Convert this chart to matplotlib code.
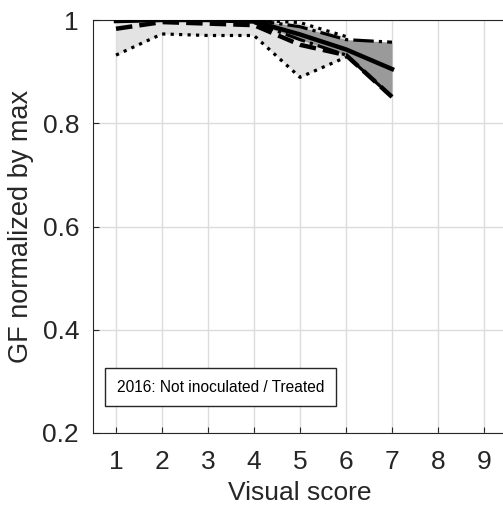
import matplotlib
matplotlib.use("Agg")
import matplotlib.pyplot as plt

plt.rcParams['font.family'] = ['Liberation Sans', 'DejaVu Sans']

# visual score positions
score = [1, 2, 3, 4, 5, 6, 7]

# central lines
mean_gf = [0.998, 1.0, 1.0, 0.997, 0.972, 0.943, 0.905]
median_gf = [0.983, 0.996, 0.993, 0.99, 0.952, 0.932, 0.851]

# light band (dotted bounds), scores 1-6
band1_x = [1, 2, 3, 4, 5, 6]
band1_hi = [1.0, 1.0, 1.0, 1.0, 0.995, 0.968]
band1_lo = [0.932, 0.973, 0.970, 0.970, 0.889, 0.928]

# dark band (dash-dot bounds), scores 4-7
band2_x = [4, 5, 6, 7]
band2_hi = [1.0, 0.987, 0.962, 0.957]
band2_lo = [0.995, 0.962, 0.932, 0.851]

xticks = [1, 2, 3, 4, 5, 6, 7, 8, 9]
yticks = [0.2, 0.4, 0.6, 0.8, 1.0]
ytick_labels = ['0.2', '0.4', '0.6', '0.8', '1']

dark = '#262626'

fig = plt.figure(figsize=(5.03, 5.09), dpi=100)
ax = fig.add_axes([93/503, 76/509, 414/503, 413/509])

ax.fill_between(band1_x, band1_lo, band1_hi, color='#e3e3e3', lw=0, zorder=1)
ax.fill_between(band2_x, band2_lo, band2_hi, color='#9a9a9a', lw=0, zorder=1.5)

ax.plot(band1_x, band1_hi, color='k', ls=':', lw=2.3, zorder=3)
ax.plot(band1_x, band1_lo, color='k', ls=':', lw=2.3, zorder=3)
ax.plot(band2_x, band2_hi, color='k', ls='-.', lw=2.3, zorder=3)
ax.plot(band2_x, band2_lo, color='k', ls='-.', lw=2.3, zorder=3)
ax.plot(score, median_gf, color='k', ls='--', lw=3.2, zorder=4)
ax.plot(score, mean_gf, color='k', ls='-', lw=3.2, zorder=4)

ax.set_xlim(0.5, 9.5)
ax.set_ylim(0.2, 1.0)
ax.set_xticks(xticks)
ax.set_yticks(yticks)
ax.set_yticklabels(ytick_labels)
ax.grid(True, color='#dcdcdc', lw=1)
ax.set_axisbelow(True)
ax.tick_params(direction='in', length=4, colors=dark, labelsize=19)
ax.tick_params(axis='x', pad=12)
ax.tick_params(axis='y', pad=10)
for s in ax.spines.values():
    s.set_color(dark)
ax.spines['right'].set_visible(False)

ax.set_xlabel('Visual score', fontsize=19, color=dark, labelpad=5)
ax.set_ylabel('GF normalized by max', fontsize=19.5, color=dark, labelpad=6)

ax.text(1.02, 0.289, '2016: Not inoculated / Treated', fontsize=11.2, color='k',
        va='center', ha='left', zorder=6,
        bbox=dict(boxstyle='square,pad=0.75', fc='white', ec=dark, lw=1))

fig.savefig('out.png', dpi=100)
